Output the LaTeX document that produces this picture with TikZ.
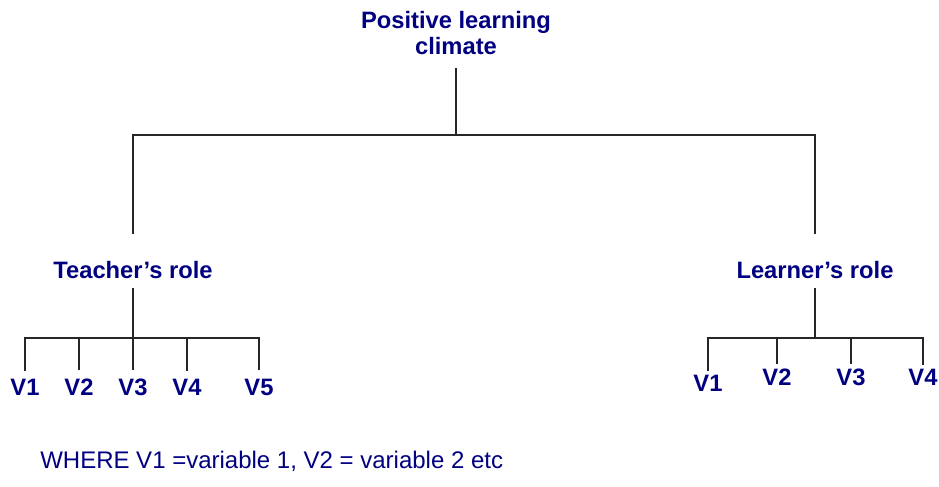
\documentclass[tikz,border=0pt]{standalone}
\usepackage{fontspec}
\setmainfont{Liberation Sans}
\usetikzlibrary{positioning,calc}
\definecolor{navyText}{HTML}{000080}
\tikzset{
  link/.style={draw=black!85, line width=0.9pt},
  head/.style={font=\fontsize{17.8}{19.5}\selectfont\bfseries, text=navyText,
    align=center, inner sep=2pt},
  role/.style={font=\fontsize{17.8}{21}\selectfont\bfseries, text=navyText, inner sep=2pt},
  leaf/.style={font=\fontsize{17.8}{21}\selectfont\bfseries, text=navyText, inner sep=1pt},
  note/.style={font=\fontsize{18}{21}\selectfont, text=navyText, anchor=west, inner sep=0pt}
}

\begin{document}
\begin{tikzpicture}[x=0.75pt,y=-0.75pt]
  \useasboundingbox (0,0) rectangle (939,486);
  \node[head] (climate) at (456,33) {Positive learning\\climate};
  \node[role] (teacher) at (133,270) {Teacher’s role};
  \node[role] (learner) at (815,270) {Learner’s role};
  \coordinate (hub) at (456,135);
  \coordinate (tHub) at (133,338);
  \coordinate (lHub) at (815,338);
  % top level
  \draw[link, shorten <=8pt] (climate) -- (hub);
  \draw[link, shorten <=18pt, shorten >=18pt] (teacher) |- (hub) -| (learner);
  \draw[link, shorten <=5pt] (teacher) -- (tHub);
  \draw[link, shorten <=5pt] (learner) -- (lHub);
  % variables
  \foreach \n/\x in {1/25,2/79,3/133,4/187,5/259}{
    \node[leaf] (tv\n) at (\x,387) {V\n};
    \draw[link, shorten <=5pt] (tv\n) |- (tHub);
  }
  \foreach \n/\x/\y in {1/708/383,2/777/377,3/851/377,4/923/377}{
    \node[leaf] (lv\n) at (\x,\y) {V\n};
    \draw[link, shorten <=2pt] (lv\n) |- (lHub);
  }
  \node[note] (key) at (40,461) {WHERE V1 =variable 1, V2 = variable 2 etc};
\end{tikzpicture}
\end{document}
